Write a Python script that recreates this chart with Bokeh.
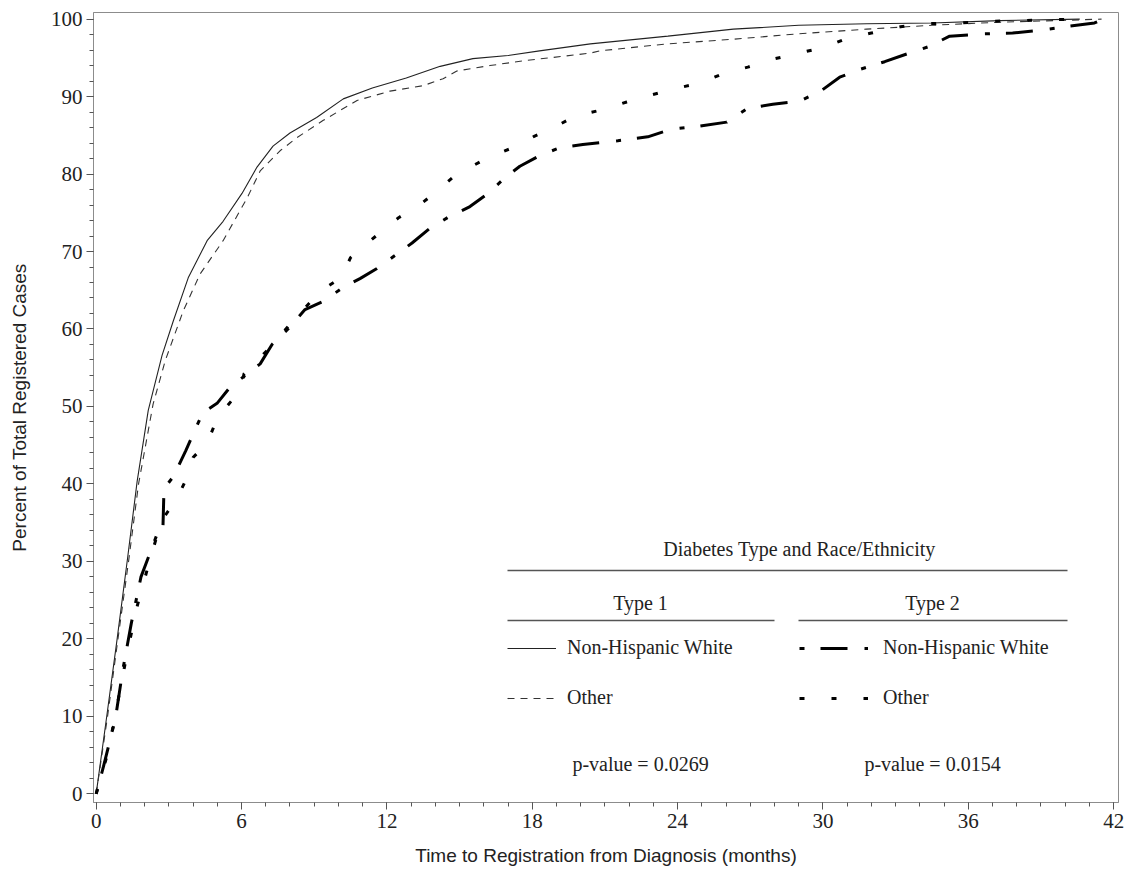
from bokeh.plotting import figure
from bokeh.models import Range1d, Legend, LegendItem, Label, BoxAnnotation, FixedTicker
from bokeh.embed import file_html
from bokeh.resources import INLINE

# ---------------- data ----------------
t1_nhw_t = [0, 0.45, 0.87, 1.3, 1.69, 2.15, 2.72, 3.18, 3.8, 4.58, 5.24, 6.02, 6.64, 7.3, 8.0,
            9.1, 10.2, 11.4, 12.8, 14.2, 15.55, 17.0, 18.3, 20.4, 23.6, 26.3, 29.0, 31.8,
            34.5, 37.3, 40.6]
t1_nhw_v = [0, 10.3, 20.1, 30.5, 40.3, 49.5, 56.6, 61.0, 66.6, 71.4, 73.9, 77.5, 80.9, 83.6, 85.3,
            87.3, 89.7, 91.1, 92.4, 93.9, 94.9, 95.3, 95.9, 96.8, 97.8, 98.7, 99.2, 99.4,
            99.5, 99.8, 100]

t1_oth_t = [0, 0.47, 0.9, 1.35, 1.75, 2.35, 2.85, 3.59, 4.29, 5.24, 6.23, 6.77, 7.59, 8.29, 9.36,
            10.77, 12.13, 13.49, 14.32, 14.89, 16.25, 17.6, 20.38, 20.8, 23.56, 26.3, 29.0,
            31.8, 34.5, 37.3, 40.6, 41.5]
t1_oth_v = [0, 10.0, 20.0, 30.3, 40.0, 50.3, 55.9, 62.3, 67.1, 71.4, 76.9, 80.4, 83.0, 84.7, 86.9,
            89.5, 90.7, 91.4, 92.3, 93.3, 94.0, 94.6, 95.6, 95.9, 96.8, 97.4, 98.1,
            98.7, 99.2, 99.6, 99.9, 100]

t2_nhw_t = [0, 0.3, 0.8, 1.1, 1.45, 1.85, 2.5, 2.75, 2.8, 3.2, 3.7, 4.4, 4.99, 5.53, 6.77, 7.26,
            7.92, 8.62, 9.32, 10.27, 10.89, 11.59, 12.34, 13.04, 13.78, 14.52, 15.43, 16.13,
            16.87, 17.49, 18.32, 19.14, 20.09, 21.53, 22.77, 23.76, 24.92, 26.03, 26.9, 27.93,
            29.04, 29.95, 30.69, 31.52, 32.55, 33.46, 34.41, 35.23, 36.67, 37.83, 39.07, 40.18,
            41.21, 41.58]
t2_nhw_v = [0, 3.5, 9.8, 16.0, 22.0, 28.0, 33.4, 33.6, 39.4, 41.0, 44.3, 49.2, 50.4, 52.5, 55.5, 58.0,
            60.0, 62.5, 63.5, 65.5, 66.5, 67.8, 69.5, 71.1, 73.0, 74.4, 75.8, 77.4,
            79.5, 81.0, 82.4, 83.4, 83.8, 84.3, 84.8, 85.8, 86.2, 86.7, 88.5, 89.0,
            89.4, 90.8, 92.5, 93.5, 94.5, 95.5, 96.5, 97.8, 98.1, 98.2, 98.6, 99.1,
            99.5, 100]

t2_oth_t = [0, 0.5, 0.9, 1.3, 1.7, 2.2, 2.7, 3.3, 3.7, 4.0, 4.6, 5.0, 6.0, 6.1, 7.3, 8.1, 9.3,
            10.1, 10.5, 11.2, 11.9, 12.5, 13.3, 14.0, 14.7, 15.5, 16.3, 17.2, 18.1, 19.0, 19.8,
            20.9, 21.9, 22.9, 24.0, 25.0, 25.9, 26.9, 27.9, 29.0, 30.1, 30.9, 32.0, 33.2, 34.2,
            35.6, 36.8, 39.3, 40.5]
t2_oth_v = [0, 5.5, 12.0, 18.5, 24.3, 30.0, 35.3, 37.9, 40.5, 43.4, 45.4, 48.5, 52.3, 54.2, 58.0, 61.0, 65.0,
            66.6, 69.2, 71.1, 72.9, 74.4, 75.9, 77.6, 79.5, 81.0, 82.3, 83.4, 84.9, 86.2, 87.5,
            88.3, 89.3, 90.2, 91.1, 91.8, 93.0, 93.8, 94.8, 95.6, 96.4, 97.4, 98.2, 99.0, 99.4,
            99.5, 99.7, 99.9, 100]

x_ticks = [0, 6, 12, 18, 24, 30, 36, 42]
y_ticks = [0, 10, 20, 30, 40, 50, 60, 70, 80, 90, 100]
x_minor = list(range(0, 43))
y_minor = list(range(0, 101, 2))

legend_title = "Diabetes Type and Race/Ethnicity"
group_labels = ["Type 1", "Type 2"]
race_labels = ["Non-Hispanic White", "Other"]
p_values = ["p-value = 0.0269", "p-value = 0.0154"]

# ---------------- figure ----------------
SERIF = "Liberation Serif"
SANS = "Liberation Sans"

p = figure(width=1126, height=880, output_backend="svg", toolbar_location=None,
           x_range=Range1d(-0.11, 42.2), y_range=Range1d(-1.12, 100.85),
           min_border_left=93, min_border_right=8, min_border_top=12, min_border_bottom=78)
p.grid.visible = False
p.outline_line_color = "#8c8c8c"
p.outline_line_width = 1
p.background_fill_color = "white"
p.border_fill_color = "white"

p.xaxis.ticker = FixedTicker(ticks=x_ticks, minor_ticks=x_minor)
p.yaxis.ticker = FixedTicker(ticks=y_ticks, minor_ticks=y_minor)
for ax in (p.xaxis[0], p.yaxis[0]):
    ax.axis_line_color = "#8c8c8c"
    ax.major_tick_line_color = "#555555"
    ax.minor_tick_line_color = "#555555"
    ax.major_tick_out = 7
    ax.major_tick_in = 0
    ax.minor_tick_out = 4
    ax.minor_tick_in = 0
    ax.major_label_text_font = SERIF
    ax.major_label_text_font_size = "21px"
    ax.major_label_text_color = "#222222"
    ax.axis_label_text_font = SANS
    ax.axis_label_text_font_size = "19px"
    ax.axis_label_text_font_style = "normal"
    ax.axis_label_text_color = "#222222"

p.xaxis.axis_label = "Time to Registration from Diagnosis (months)"
p.yaxis.axis_label = "Percent of Total Registered Cases"
p.xaxis.major_label_standoff = 4
p.xaxis.axis_label_standoff = 14
p.yaxis.major_label_standoff = 4
p.yaxis.axis_label_standoff = 18

r1 = p.line(t1_nhw_t, t1_nhw_v, line_color="#222222", line_width=1.1)
r2 = p.line(t1_oth_t, t1_oth_v, line_color="#333333", line_width=1.1, line_dash="7 6")
r3 = p.line(t2_nhw_t, t2_nhw_v, line_color="black", line_width=3, line_dash="5 16 27 17")
r4 = p.line(t2_oth_t, t2_oth_v, line_color="black", line_width=3, line_dash="5 27")

common = dict(background_fill_alpha=0, border_line_alpha=0, padding=0, margin=0,
              spacing=27, glyph_height=20, label_height=20,
              label_text_font=SERIF, label_text_font_size="20px",
              label_text_color="#222222", label_text_baseline="middle")
leg1 = Legend(items=[LegendItem(label=race_labels[0], renderers=[r1]),
                     LegendItem(label=race_labels[1], renderers=[r2])],
              location=(414, 93), glyph_width=49, label_standoff=11, **common)
leg2 = Legend(items=[LegendItem(label=race_labels[0], renderers=[r3]),
                     LegendItem(label=race_labels[1], renderers=[r4])],
              location=(706, 93), glyph_width=69, label_standoff=15, **common)
p.add_layout(leg1)
p.add_layout(leg2)


def text(x, y, s):
    p.add_layout(Label(x=x, y=y, x_units="screen", y_units="screen", text=s,
                       text_font=SERIF, text_font_size="20px", text_color="#222222",
                       text_align="center", text_baseline="middle"))


def rule(x0, x1, y):
    p.add_layout(BoxAnnotation(left=x0, right=x1, bottom=y - 0.75, top=y + 0.75,
                               left_units="screen", right_units="screen",
                               bottom_units="screen", top_units="screen",
                               fill_color="#555555", fill_alpha=1, line_alpha=0))


text(706, 254, legend_title)
rule(414, 974, 232)
text(547, 200, group_labels[0])
text(839, 200, group_labels[1])
rule(414, 681, 182)
rule(705, 974, 182)
text(547, 39, p_values[0])
text(839, 39, p_values[1])

open("out.html", "w").write(file_html(p, INLINE))
